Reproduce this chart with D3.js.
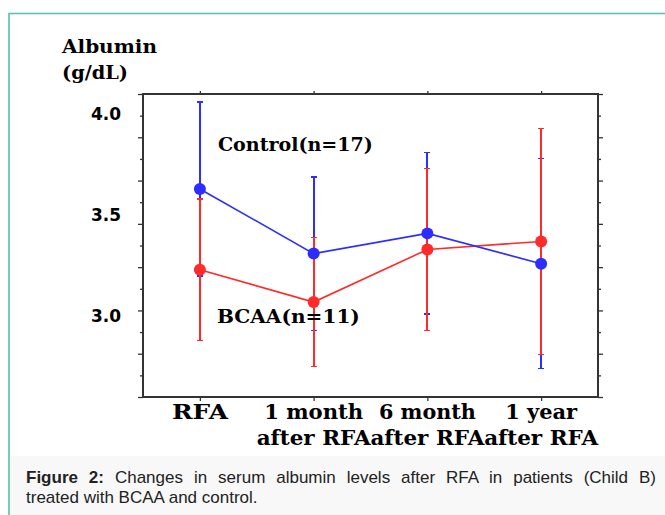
<!DOCTYPE html>
<html lang="en">
<head>
<meta charset="UTF-8">
<title>Albumin after RFA</title>
<script src="https://cdn.jsdelivr.net/npm/d3@7"></script>
<style>
  * { margin: 0; padding: 0; }
  body { background: #fff; }
</style>
</head>
<body>
<svg></svg>
<script>
  // values (g/dL), mean and SD per time point
  const categories = ['RFA', '1 month', '6 month', '1 year'];
  const labelLine1 = ['RFA', '1 month', '6 month', '1 year'];
  const labelLine2 = ['', 'after RFA', 'after RFA', 'after RFA'];
  const controlMean = [3.63, 3.31, 3.41, 3.26];
  const controlSD = [0.43, 0.38, 0.40, 0.52];
  const bcaaMean = [3.23, 3.07, 3.33, 3.37];
  const bcaaSD = [0.35, 0.32, 0.40, 0.56];
  const yTickLabels = [4.0, 3.5, 3.0];

  const width = 665, height = 515;
  const svg = d3.select('svg').attr('width', width).attr('height', height);

  // figure box: teal border top/left, light caption strip
  svg.append('rect').attr('x', 9).attr('y', 456).attr('width', width - 9).attr('height', height - 456)
    .attr('fill', '#f8f8f8');
  svg.append('path').attr('d', `M9,${height} V13.5 H${width}`)
    .attr('fill', 'none').attr('stroke', '#55c0b0').attr('stroke-width', 1.6);

  const plot = { left: 143, right: 598, top: 94, bottom: 397 };

  const x = d3.scalePoint().domain(categories).range([plot.left, plot.right]).padding(0.5);
  const y = d3.scaleLinear().domain([2.6, 4.1]).range([plot.bottom, plot.top]);
  // the frame carries 14 evenly spaced tick marks, not tied to the values
  const tickScale = d3.scaleLinear().domain([0, 14]).range([plot.bottom, plot.top]);

  const serif = '"DejaVu Serif", "Liberation Serif", serif';
  const axisColor = '#333';

  const g = svg.append('g');

  // left / right tick marks (major on even steps)
  const styleAxis = sel => {
    sel.select('.domain').remove();
    sel.selectAll('line').attr('stroke', axisColor).attr('stroke-width', 1.3);
    sel.selectAll('text').remove();
  };
  const majors = d3.range(0, 15, 2), minors = d3.range(1, 14, 2);
  g.append('g').attr('transform', `translate(${plot.left},0)`)
    .call(d3.axisLeft(tickScale).tickValues(majors).tickSize(5)).call(styleAxis);
  g.append('g').attr('transform', `translate(${plot.left},0)`)
    .call(d3.axisLeft(tickScale).tickValues(minors).tickSize(3)).call(styleAxis);
  g.append('g').attr('transform', `translate(${plot.right},0)`)
    .call(d3.axisRight(tickScale).tickValues(majors).tickSize(5)).call(styleAxis);
  g.append('g').attr('transform', `translate(${plot.right},0)`)
    .call(d3.axisRight(tickScale).tickValues(minors).tickSize(3)).call(styleAxis);
  g.append('g').attr('transform', `translate(0,${plot.top})`)
    .call(d3.axisTop(x).tickSize(3)).call(styleAxis);
  g.append('g').attr('transform', `translate(0,${plot.bottom})`)
    .call(d3.axisBottom(x).tickSize(4)).call(styleAxis);

  // frame
  g.append('rect')
    .attr('x', plot.left).attr('y', plot.top)
    .attr('width', plot.right - plot.left).attr('height', plot.bottom - plot.top)
    .attr('fill', 'none').attr('stroke', axisColor).attr('stroke-width', 2);

  // y tick labels
  g.selectAll('.ylab').data(yTickLabels).enter().append('text')
    .attr('x', 121).attr('y', d => y(d)).attr('dy', '0.36em')
    .attr('text-anchor', 'end')
    .style('font-family', '"DejaVu Sans", sans-serif').style('font-weight', 'bold').style('font-size', '17px')
    .text(d => d.toFixed(1));

  // y title
  svg.append('text').attr('x', 62).attr('y', 53).attr('textLength', 95).attr('lengthAdjust', 'spacingAndGlyphs')
    .style('font-family', serif).style('font-weight', 'bold').style('font-size', '19px').text('Albumin');
  svg.append('text').attr('x', 62).attr('y', 79).attr('textLength', 66).attr('lengthAdjust', 'spacingAndGlyphs')
    .style('font-family', serif).style('font-weight', 'bold').style('font-size', '19px').text('(g/dL)');

  // x labels
  const line1W = [56, 99, 97, 72];
  g.selectAll('.xl1').data(categories).enter().append('text')
    .attr('x', d => x(d)).attr('y', 419).attr('text-anchor', 'middle')
    .attr('textLength', (d, i) => line1W[i]).attr('lengthAdjust', 'spacingAndGlyphs')
    .style('font-family', serif).style('font-weight', 'bold').style('font-size', '20px')
    .text((d, i) => labelLine1[i]);
  g.selectAll('.xl2').data(categories.filter((d, i) => labelLine2[i])).enter().append('text')
    .attr('x', d => x(d)).attr('y', 445).attr('text-anchor', 'middle')
    .attr('textLength', 114).attr('lengthAdjust', 'spacingAndGlyphs')
    .style('font-family', serif).style('font-weight', 'bold').style('font-size', '20px')
    .text(d => labelLine2[categories.indexOf(d)]);

  const blue = '#2d2dff', red = '#ff2a2a';

  const errorBars = (mean, sd, color) => {
    const eb = g.append('g').attr('stroke', color).attr('stroke-width', 1.5)
      .attr('shape-rendering', 'crispEdges');
    categories.forEach((c, i) => {
      const cx = Math.round(x(c)), y0 = y(mean[i] - sd[i]), y1 = y(mean[i] + sd[i]);
      eb.append('line').attr('x1', cx).attr('x2', cx).attr('y1', y0).attr('y2', y1);
      eb.append('line').attr('x1', cx - 3).attr('x2', cx + 3).attr('y1', y0).attr('y2', y0);
      eb.append('line').attr('x1', cx - 3).attr('x2', cx + 3).attr('y1', y1).attr('y2', y1);
    });
  };
  const series = (mean, color) => {
    g.append('path').datum(mean)
      .attr('d', d3.line().x((d, i) => x(categories[i])).y(d => y(d)))
      .attr('fill', 'none').attr('stroke', color).attr('stroke-width', 1.6);
    g.selectAll(null).data(mean).enter().append('circle')
      .attr('cx', (d, i) => x(categories[i])).attr('cy', d => y(d)).attr('r', 6)
      .attr('fill', color);
  };

  errorBars(controlMean, controlSD, blue);
  errorBars(bcaaMean, bcaaSD, red);
  series(bcaaMean, red);
  series(controlMean, blue);

  // group annotations
  g.append('text').attr('x', x('RFA') + 18).attr('y', y(3.85)).attr('dy', '0.35em')
    .attr('textLength', 155).attr('lengthAdjust', 'spacingAndGlyphs')
    .style('font-family', serif).style('font-weight', 'bold').style('font-size', '19px')
    .text('Control(n=17)');
  g.append('text').attr('x', x('RFA') + 17).attr('y', y(3.0)).attr('dy', '0.35em')
    .attr('textLength', 143).attr('lengthAdjust', 'spacingAndGlyphs')
    .style('font-family', serif).style('font-weight', 'bold').style('font-size', '19px')
    .text('BCAA(n=11)');

  // caption, first line justified (word spacing tuned against the rendered box)
  const capFont = '"Liberation Sans", Arial, sans-serif';
  const cap = svg.append('text').attr('x', 26).attr('y', 483)
    .style('font-family', capFont).style('font-size', '17px').attr('fill', '#222');
  cap.append('tspan').style('font-weight', 'bold').text('Figure 2:');
  cap.append('tspan').text(' Changes in serum albumin levels after RFA in patients (Child B)');
  let ws = 0;
  for (let k = 0; k < 4; k++) {
    const w = cap.node().getBBox().width;
    ws += (656 - 26 - w) / 11;
    cap.style('word-spacing', `${ws}px`);
  }
  svg.append('text').attr('x', 26).attr('y', 503)
    .style('font-family', capFont).style('font-size', '17px').attr('fill', '#222')
    .text('treated with BCAA and control.');
</script>
</body>
</html>
